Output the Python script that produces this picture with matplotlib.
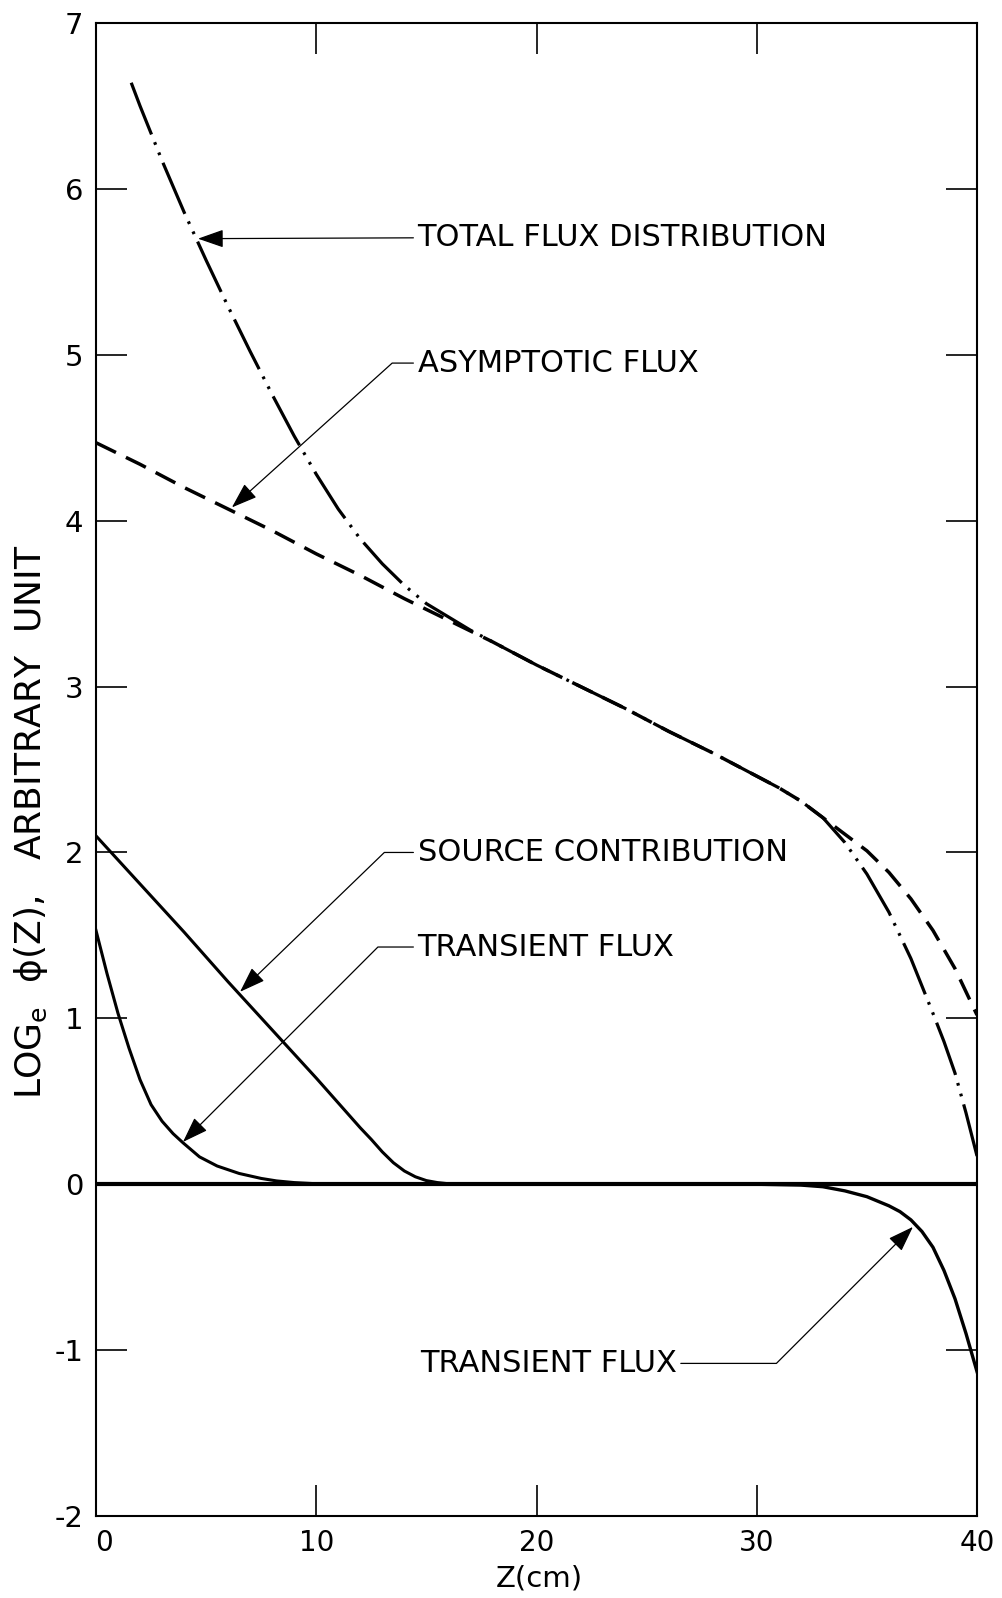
import matplotlib
matplotlib.use("Agg")
import matplotlib.pyplot as plt
from matplotlib.transforms import ScaledTranslation

plt.rcParams['font.family'] = ['DejaVu Sans']
plt.rcParams['axes.unicode_minus'] = False
plt.rcParams['lines.scale_dashes'] = False

# ---- data ----
total_z = [1.6, 2.0, 3, 4, 5, 6, 7, 8, 9, 10, 11, 12, 13, 14, 15, 16, 17, 18, 20, 22,
           24, 26, 28, 30, 31, 32, 33, 34, 35, 36, 37, 38, 38.5, 39, 39.5, 40]
total_y = [6.64, 6.50, 6.17, 5.86, 5.57, 5.29, 5.02, 4.76, 4.51, 4.28, 4.07, 3.89,
           3.74, 3.61, 3.50, 3.42, 3.34, 3.27, 3.13, 3.00, 2.87, 2.73, 2.60, 2.46,
           2.39, 2.31, 2.21, 2.06, 1.87, 1.64, 1.36, 1.03, 0.86, 0.67, 0.43, 0.17]

asym_z = [0, 2, 4, 6, 8, 10, 12, 14, 16, 18, 20, 22, 24, 26, 28, 30, 31, 32, 33, 34,
          35, 36, 37, 38, 39, 40]
asym_y = [4.47, 4.34, 4.20, 4.07, 3.94, 3.80, 3.67, 3.53, 3.40, 3.27, 3.13, 3.00,
          2.87, 2.73, 2.60, 2.46, 2.39, 2.31, 2.21, 2.11, 2.01, 1.88, 1.72, 1.53,
          1.30, 1.02]

source_z = [0, 2, 4, 6, 8, 10, 12, 12.5, 13, 13.5, 14, 14.5, 15, 15.5, 16, 17]
source_y = [2.10, 1.81, 1.52, 1.22, 0.93, 0.64, 0.34, 0.27, 0.195, 0.13, 0.08, 0.045,
            0.022, 0.01, 0.003, 0.0]

trans_left_z = [0, 0.5, 1.0, 1.5, 2.0, 2.5, 3.0, 3.5, 3.95, 4.7, 5.5, 6.5, 7.5, 8.2,
                9, 10, 11]
trans_left_y = [1.53, 1.27, 1.03, 0.82, 0.63, 0.48, 0.38, 0.305, 0.25, 0.165, 0.11,
                0.065, 0.035, 0.02, 0.01, 0.003, 0.0]

trans_right_z = [30, 32, 33, 34, 35, 36, 36.5, 37, 37.5, 38, 38.5, 39, 39.5, 40]
trans_right_y = [0.0, -0.005, -0.015, -0.04, -0.075, -0.13, -0.165, -0.215, -0.285,
                 -0.38, -0.52, -0.69, -0.90, -1.13]

zero_z = [0, 40]
zero_y = [0, 0]

x_ticks = [0, 10, 20, 30, 40]
y_ticks = [-2, -1, 0, 1, 2, 3, 4, 5, 6, 7]

# annotations: (label, tip z, tip y, text z, text y, connection style)
annotations = [
    ("TOTAL FLUX DISTRIBUTION", 4.63, 5.70, 14.6, 5.71, "arc3,rad=0"),
    ("ASYMPTOTIC FLUX", 6.17, 4.08, 14.6, 4.95, "angle,angleA=0,angleB=42,rad=0"),
    ("SOURCE CONTRIBUTION", 6.54, 1.16, 14.6, 2.00, "angle,angleA=0,angleB=44,rad=0"),
    ("TRANSIENT FLUX", 3.95, 0.255, 14.6, 1.43, "angle,angleA=0,angleB=45,rad=0"),
    ("TRANSIENT FLUX", 37.09, -0.257, 14.7, -1.08, "angle,angleA=0,angleB=45,rad=0"),
]

# ---- figure ----
fig = plt.figure(figsize=(10.03, 15.98), dpi=100)
ax = fig.add_axes([0.0957, 0.0513, 0.8784, 0.9343])

ax.plot(zero_z, zero_y, color='black', lw=3.0, solid_capstyle='butt')
ax.plot(asym_z, asym_y, color='black', lw=2.5, linestyle=(0, (16, 8)))
ax.plot(total_z, total_y, color='black', lw=2.3, linestyle=(0, (40, 6, 2, 6, 2, 6)))
ax.plot(source_z, source_y, color='black', lw=2.2)
ax.plot(trans_left_z, trans_left_y, color='black', lw=2.2)
ax.plot(trans_right_z, trans_right_y, color='black', lw=2.4)

for label, tz, ty, xz, xy, cs in annotations:
    ax.annotate(label, xy=(tz, ty), xytext=(xz, xy), ha='left', va='center',
                fontsize=22,
                arrowprops=dict(arrowstyle='-|>,head_length=0.8,head_width=0.28',
                                mutation_scale=20, lw=0.9, color='black',
                                shrinkA=1, shrinkB=0, connectionstyle=cs))

ax.set_xlim(0, 40)
ax.set_ylim(-2, 7)
ax.set_xticks(x_ticks)
ax.set_yticks(y_ticks)
ax.set_xticklabels([str(v) for v in x_ticks], fontsize=20)
ax.set_yticklabels([str(v) for v in y_ticks], fontsize=21)
ax.tick_params(direction='in', top=True, right=True, length=22, width=1.2, pad=9)
for s in ax.spines.values():
    s.set_linewidth(1.5)

# the "0" under the origin sits slightly to the right in the reference
first = ax.get_xticklabels()[0]
first.set_transform(first.get_transform() + ScaledTranslation(6 / 72, 0, fig.dpi_scale_trans))

fig.text(0.031, 0.486, r"LOG$_\mathregular{e}$  ϕ(Z),   ARBITRARY  UNIT", rotation=90,
         ha='center', va='center', fontsize=26)
fig.text(0.538, 1 - 1579 / 1598, "Z(cm)", ha='center', va='center', fontsize=21)

fig.savefig("out.png", dpi=100, facecolor='white')
